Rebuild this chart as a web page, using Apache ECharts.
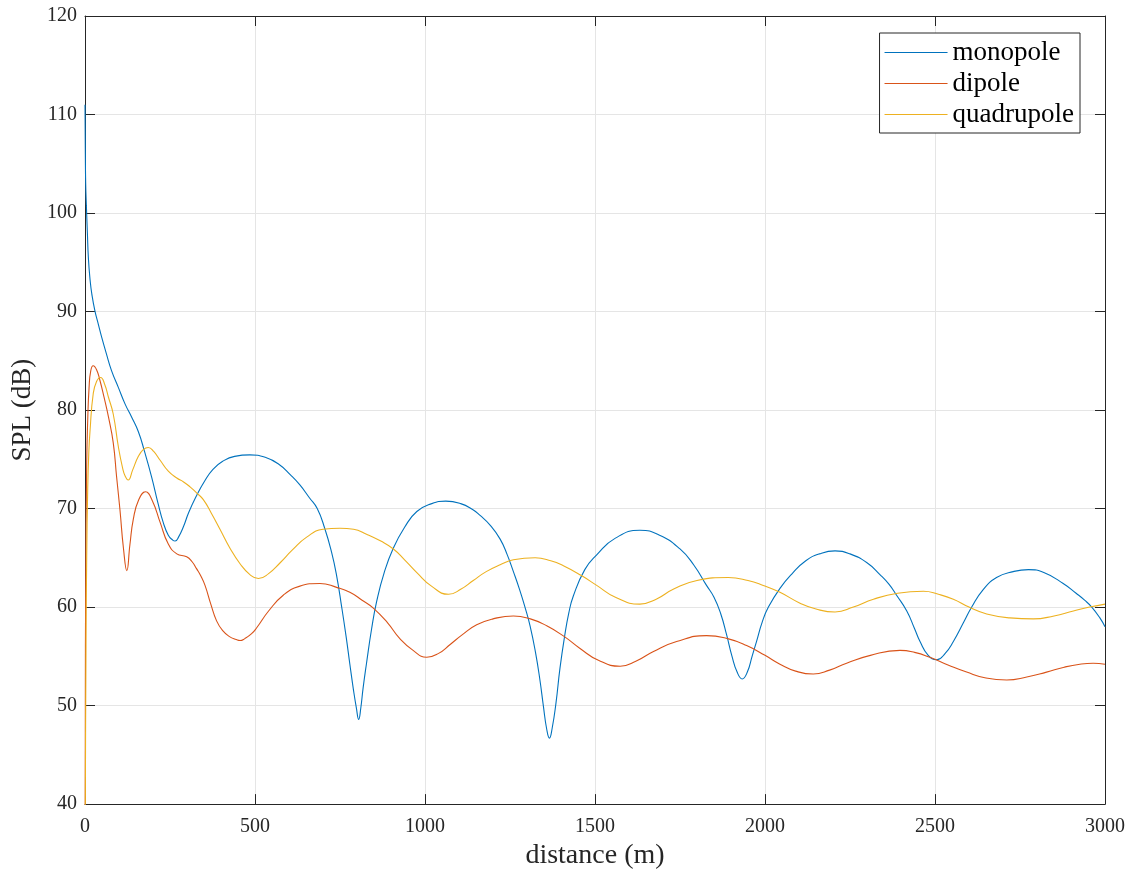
<!DOCTYPE html>
<html>
<head>
<meta charset="utf-8">
<script src="https://cdn.jsdelivr.net/npm/echarts@6/dist/echarts.min.js"></script>
<style>
  html, body { margin: 0; padding: 0; background: #fff; overflow: hidden; }
  #chart { width: 1132px; height: 875px; }
</style>
</head>
<body>
<div id="chart"></div>
<script>
// Sound pressure level versus distance for three source types
const monopole = [
  [0, 111], [1, 106], [2, 103], [4, 100.8], [7, 98], [10, 95.4], [15, 93.2], [20, 91.8],
  [29, 90.1], [40, 88.6], [49, 87.4], [63, 85.7], [78, 84.0], [98, 82.3], [118, 80.6],
  [137, 79.3], [157, 77.8], [175, 75.8], [196, 73.2], [215, 70.5], [230, 68.6], [245, 67.3],
  [258, 66.8], [265, 66.7], [275, 67.1], [290, 68.2], [305, 69.6], [328, 71.3], [352, 72.8],
  [377, 74.0], [405, 74.8], [440, 75.3], [485, 75.45], [530, 75.2], [570, 74.5], [605, 73.4],
  [632, 72.4], [660, 71.1], [683, 70.0], [705, 68.0], [725, 65.6], [740, 63.2], [755, 60.0],
  [768, 57.0], [779, 54.2], [790, 51.5], [798, 49.8], [805, 48.6], [811, 49.7], [818, 51.8],
  [828, 54.3], [843, 57.8], [858, 60.6], [880, 63.5], [907, 66.0], [940, 68.1], [976, 69.7],
  [1020, 70.5], [1061, 70.75], [1105, 70.5], [1140, 69.9], [1162, 69.3], [1192, 68.3],
  [1221, 66.9], [1242, 65.3], [1260, 63.6], [1278, 61.8], [1294, 60.0], [1309, 58.1],
  [1325, 55.4], [1338, 52.6], [1348, 50.0], [1358, 47.6], [1366, 46.7], [1374, 47.7],
  [1385, 50.2], [1397, 53.8], [1410, 56.9], [1423, 59.4], [1436, 61.1], [1470, 63.8],
  [1505, 65.3], [1560, 67.0], [1632, 67.8], [1690, 67.3], [1750, 65.9], [1790, 64.3],
  [1828, 62.2], [1850, 61.0], [1870, 59.3], [1887, 57.2], [1903, 55.0], [1918, 53.4],
  [1933, 52.7], [1948, 53.4], [1962, 55.0], [1975, 56.5], [1992, 58.5], [2010, 60.0],
  [2044, 61.9], [2080, 63.4], [2120, 64.7], [2160, 65.4], [2206, 65.7], [2250, 65.4],
  [2300, 64.5], [2338, 63.3], [2365, 62.3], [2387, 61.2], [2417, 59.6], [2440, 57.8],
  [2456, 56.5], [2480, 55.1], [2505, 54.65], [2530, 55.3], [2554, 56.5], [2585, 58.5],
  [2608, 60.0], [2640, 61.7], [2681, 63.0], [2730, 63.6], [2775, 63.8], [2820, 63.5],
  [2877, 62.4], [2915, 61.4], [2940, 60.7], [2961, 60.0], [2985, 58.9], [3000, 58.0]
];

const dipole = [
  [0, 20], [1, 50], [2, 62], [5, 74.6], [8, 79], [12, 82.3], [17, 84.0], [24, 84.5],
  [34, 84.1], [44, 83.0], [56, 81.3], [69, 79.3], [83, 76.7], [93, 73.2], [103, 69.8],
  [113, 66.0], [123, 63.7], [132, 66.3], [142, 68.9], [158, 70.9], [178, 71.7], [198, 70.8],
  [221, 68.6], [245, 66.4], [270, 65.4], [299, 65.1], [315, 64.6], [328, 63.9], [340, 63.2],
  [353, 62.2], [370, 60.3], [387, 58.6], [405, 57.6], [425, 57.0], [445, 56.7], [456, 56.6],
  [470, 56.8], [490, 57.3], [505, 57.9], [540, 59.6], [583, 61.2], [630, 62.1], [691, 62.4],
  [740, 62.0], [779, 61.5], [815, 60.7], [848, 59.9], [890, 58.4], [926, 56.8], [965, 55.6],
  [1005, 54.9], [1040, 55.3], [1074, 56.2], [1110, 57.2], [1152, 58.2], [1200, 58.8],
  [1260, 59.1], [1310, 58.8], [1358, 58.1], [1410, 57.0], [1456, 55.8], [1510, 54.6],
  [1574, 54.0], [1620, 54.5], [1672, 55.5], [1740, 56.5], [1828, 57.1], [1890, 56.8],
  [1946, 56.1], [2000, 55.1], [2044, 54.2], [2090, 53.5], [2142, 53.2], [2190, 53.6],
  [2240, 54.3], [2310, 55.1], [2397, 55.6], [2440, 55.4], [2485, 54.9], [2540, 54.1],
  [2593, 53.4], [2650, 52.8], [2711, 52.6], [2770, 52.9], [2828, 53.4], [2880, 53.9],
  [2926, 54.2], [2965, 54.3], [3000, 54.2]
];

const quadrupole = [
  [0, 20], [1, 40], [3, 56], [5, 65], [8, 72], [11, 75.5], [15, 78], [24, 81.6], [34, 82.9],
  [46, 83.3], [58, 82.6], [69, 81.3], [83, 79.6], [98, 76.3], [110, 74.2], [118, 73.3],
  [127, 72.9], [140, 73.9], [157, 75.3], [172, 76.0], [186, 76.2], [202, 75.8], [221, 74.9],
  [245, 73.8], [270, 73.1], [290, 72.7], [309, 72.2], [328, 71.6], [348, 70.9], [372, 69.5],
  [397, 67.9], [426, 66.0], [456, 64.4], [485, 63.3], [510, 62.9], [540, 63.4], [574, 64.5],
  [610, 65.8], [652, 67.1], [700, 67.9], [750, 68.0], [790, 67.9], [828, 67.4], [870, 66.7],
  [907, 65.9], [940, 64.8], [976, 63.5], [1020, 62.1], [1069, 61.3], [1105, 61.8],
  [1142, 62.7], [1180, 63.6], [1221, 64.3], [1260, 64.8], [1324, 65.0], [1370, 64.7],
  [1407, 64.2], [1460, 63.2], [1505, 62.2], [1560, 61.0], [1632, 60.3], [1680, 60.8],
  [1730, 61.8], [1800, 62.7], [1892, 63.0], [1950, 62.7], [1995, 62.2], [2044, 61.5],
  [2103, 60.4], [2150, 59.8], [2206, 59.5], [2260, 60.0], [2319, 60.8], [2390, 61.4],
  [2466, 61.6], [2510, 61.3], [2554, 60.8], [2600, 60.0], [2652, 59.3], [2720, 58.9],
  [2789, 58.8], [2850, 59.1], [2907, 59.6], [2955, 60.0], [3000, 60.3]
];

const seriesNames = ['monopole', 'dipole', 'quadrupole'];
const xTicks = [0, 500, 1000, 1500, 2000, 2500, 3000];
const yTicks = [40, 50, 60, 70, 80, 90, 100, 110, 120];

const serif = '"Liberation Serif", "DejaVu Serif", serif';
const ink = '#262626';
const gridColor = '#e5e5e5';

const chart = echarts.init(document.getElementById('chart'), null, {
  renderer: 'canvas', width: 1132, height: 875
});

const xBase = {
  type: 'value',
  min: xTicks[0],
  max: xTicks[xTicks.length - 1],
  interval: xTicks[1] - xTicks[0],
  axisLine: { show: true, onZero: false, lineStyle: { color: ink, width: 1 } },
  axisTick: { show: true, inside: true, length: 10, lineStyle: { color: ink } }
};
const yBase = {
  type: 'value',
  min: yTicks[0],
  max: yTicks[yTicks.length - 1],
  interval: yTicks[1] - yTicks[0],
  axisLine: { show: true, onZero: false, lineStyle: { color: ink, width: 1 } },
  axisTick: { show: true, inside: true, length: 10, lineStyle: { color: ink } }
};

const plainNumber = v => String(v);

chart.setOption({
  animation: false,
  backgroundColor: '#ffffff',
  color: ['#0072BD', '#D95319', '#EDB120'],
  grid: { left: 85, top: 16, width: 1020, height: 794, containLabel: false },
  legend: {
    right: 52,
    top: 33,
    orient: 'vertical',
    backgroundColor: '#ffffff',
    borderColor: ink,
    borderWidth: 1,
    borderRadius: 0,
    padding: [6, 6, 5, 5],
    itemGap: 4,
    itemWidth: 63,
    itemHeight: 1.2,
    icon: 'rect',
    textStyle: { fontFamily: serif, fontSize: 27, color: '#000', padding: [0, 0, 0, 0] },
    data: seriesNames
  },
  xAxis: [
    Object.assign({}, xBase, {
      position: 'bottom',
      name: 'distance (m)',
      nameLocation: 'middle',
      nameGap: 36,
      nameTextStyle: { fontFamily: serif, fontSize: 28, color: ink },
      axisLabel: { fontFamily: serif, fontSize: 20, color: ink, margin: 13, formatter: plainNumber },
      splitLine: { show: true, lineStyle: { color: gridColor, width: 1 } }
    }),
    Object.assign({}, xBase, {
      position: 'top',
      axisLabel: { show: false },
      splitLine: { show: false }
    })
  ],
  yAxis: [
    Object.assign({}, yBase, {
      position: 'left',
      name: 'SPL (dB)',
      nameLocation: 'middle',
      nameGap: 47,
      nameTextStyle: { fontFamily: serif, fontSize: 27, color: ink },
      axisLabel: { fontFamily: serif, fontSize: 20, color: ink, margin: 8, formatter: plainNumber },
      splitLine: { show: true, lineStyle: { color: gridColor, width: 1 } }
    }),
    Object.assign({}, yBase, {
      position: 'right',
      axisLabel: { show: false },
      splitLine: { show: false }
    })
  ],
  series: [
    { name: seriesNames[0], type: 'line', data: monopole, symbol: 'none', smooth: 0.5, clip: true,
      lineStyle: { width: 1.1 } },
    { name: seriesNames[1], type: 'line', data: dipole, symbol: 'none', smooth: 0.5, clip: true,
      lineStyle: { width: 1.1 } },
    { name: seriesNames[2], type: 'line', data: quadrupole, symbol: 'none', smooth: 0.5, clip: true,
      lineStyle: { width: 1.1 } }
  ]
});
</script>
</body>
</html>
